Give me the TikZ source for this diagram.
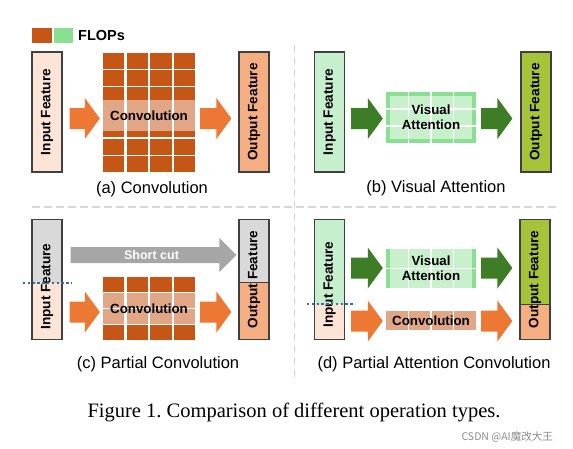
\documentclass[tikz,border=0pt]{standalone}
\usepackage{fontspec}
\setmainfont{Liberation Sans}
\newfontfamily\captionserif{Liberation Serif}
\newfontfamily\cjksans{Noto Sans CJK SC}
\usetikzlibrary{calc}
\frenchspacing
\definecolor{fcbrown}{RGB}{197,86,22}
\definecolor{fcband}{RGB}{224,166,134}
\definecolor{fcpeach}{RGB}{252,228,214}
\definecolor{fcsalmon}{RGB}{244,174,130}
\definecolor{fcorange}{RGB}{237,120,52}
\definecolor{fcgreyfeat}{RGB}{217,217,217}
\definecolor{fcshort}{RGB}{166,166,166}
\definecolor{fcmint}{RGB}{198,239,206}
\definecolor{fcleaf}{RGB}{136,224,144}
\definecolor{fcpale}{RGB}{200,240,204}
\definecolor{fcforest}{RGB}{60,125,38}
\definecolor{fcolive}{RGB}{166,196,58}
\definecolor{fcdots}{RGB}{46,110,170}
\definecolor{fcsep}{RGB}{215,215,215}
\tikzset{
  fcfeat/.style={draw=black!75, line width=1.2pt, minimum width=30, minimum height=120,
    inner sep=0pt, font=\fontsize{13.6}{14}\selectfont\bfseries},
  fclabel/.style={inner sep=0pt, align=center, font=\fontsize{13.3}{15}\selectfont\bfseries},
  fccap/.style={font=\fontsize{16.5}{18}\selectfont},
  fcsepline/.style={draw=fcsep, line width=1.4pt, dash pattern=on 8pt off 4pt},
  fcdotline/.style={draw=fcdots, line width=2pt, dash pattern=on 2.4pt off 2.4pt},
  fcwhite/.style={draw=white, line width=1.5pt}
}
% fat block arrow: colour, tail, tip, y
\newcommand{\fatarrow}[4]{%
  \fill[#1] let \p1=(#2), \p2=(#3), \p3=(0,#4) in
    (\x1,\y3+10.5pt) -- (\x2-15pt,\y3+10.5pt) -- (\x2-15pt,\y3+20.5pt) -- (\x2,\y3)
    -- (\x2-15pt,\y3-20.5pt) -- (\x2-15pt,\y3-10.5pt) -- (\x1,\y3-10.5pt) -- cycle;}

\begin{document}
\begin{tikzpicture}[x=1pt,y=-1pt]
  \fill[white] (0,0) rectangle (573,448);
  \useasboundingbox (0,0) rectangle (573,448);

  % legend
  \fill[fcbrown] (32,28) rectangle (52,43);
  \fill[fcleaf] (54,28) rectangle (73,43);
  \node[anchor=west, inner sep=0pt, font=\fontsize{14.5}{14.5}\selectfont\bfseries] (flops) at (78,36) {FLOPs};

  % separators
  \draw[fcsepline] (32,207) -- (559,207);
  \draw[fcsepline] (294.5,45) -- (294.5,378);

  % (a) convolution
  \foreach \i in {0,...,3}
    \foreach \j in {0,...,6}
      \fill[fcbrown] ({103+\i*23.7},{53+\j*17.2}) rectangle ++(21.2,15.5);
  \foreach \i in {0,...,3}
    \fill[fcband] ({103+\i*23.7},100) rectangle ++(21.2,31);
  \node[fcfeat, fill=fcpeach] (inA) at (47,112) {\rotatebox{90}{Input Feature}};
  \node[fcfeat, fill=fcsalmon] (outA) at (254,112) {\rotatebox{90}{Output Feature}};
  \node[fclabel, minimum width=92] (convA) at (149,115.5) {Convolution};
  \fatarrow{fcorange}{$(inA.east)+(7,0)$}{$(convA.west)+(-3,0)$}{118.5}
  \fatarrow{fcorange}{$(convA.east)+(5,0)$}{$(outA.west)+(-7,0)$}{118.5}
  \node[fccap] (capA) at (152,189) {(a) Convolution};

  % (b) visual attention
  \fill[fcleaf] (386,92) rectangle (476,143);
  \fill[fcpale] (390,96) rectangle (472,139);
  \foreach \x in {408.5,431,453.5} \draw[fcwhite] (\x,92) -- (\x,143);
  \foreach \y in {109,126} \draw[fcwhite] (386,\y) -- (476,\y);
  \node[fcfeat, fill=fcmint] (inB) at (329.5,112) {\rotatebox{90}{Input Feature}};
  \node[fcfeat, fill=fcolive] (outB) at (536,112) {\rotatebox{90}{Output Feature}};
  \node[fclabel, minimum width=90, minimum height=51] (attB) at (431,117.5) {Visual\\Attention};
  \fatarrow{fcforest}{$(inB.east)+(6,0)$}{$(attB.west)+(-3,0)$}{118.5}
  \fatarrow{fcforest}{$(attB.east)+(5,0)$}{$(outB.west)+(-8,0)$}{118.5}
  \node[fccap] (capB) at (436,188) {(b) Visual Attention};

  % (c) partial convolution
  \fill[fcgreyfeat] (32,219.5) rectangle (62,283);
  \fill[fcpeach] (32,283) rectangle (62,339.5);
  \fill[fcgreyfeat] (239,219.5) rectangle (269,282);
  \fill[fcsalmon] (239,282) rectangle (269,339.5);
  \draw[black!75, line width=0.8pt] (239,282) -- (269,282);
  \foreach \i in {0,...,3} {
    \fill[fcbrown] ({103+\i*23.7},277) rectangle ++(21.2,14.5);
    \fill[fcband] ({103+\i*23.7},293.1) rectangle ++(21.2,14.5);
    \fill[fcband] ({103+\i*23.7},309.2) rectangle ++(21.2,14.5);
    \fill[fcbrown] ({103+\i*23.7},325.3) rectangle ++(21.2,14.5);
  }
  \node[fcfeat] (inC) at (47,279.5) {\rotatebox{90}{Input Feature\hspace{14pt}}};
  \node[fcfeat] (outC) at (254,279.5) {\rotatebox{90}{Output Feature}};
  \node[fclabel, minimum width=92] (convC) at (149,309) {Convolution};
  \fatarrow{fcorange}{$(inC.east)+(7,0)$}{$(convC.west)+(-3,0)$}{312}
  \fatarrow{fcorange}{$(convC.east)+(5,0)$}{$(outC.west)+(-7,0)$}{312}
  \fill[fcshort] let \p1=($(inC.east)+(8,0)$), \p2=($(outC.west)+(-2,0)$), \p3=(0,255) in
    (\x1,\y3+8pt) -- (\x2-17pt,\y3+8pt) -- (\x2-17pt,\y3+17pt) -- (\x2,\y3)
    -- (\x2-17pt,\y3-17pt) -- (\x2-17pt,\y3-8pt) -- (\x1,\y3-8pt) -- cycle;
  \node[fclabel, text=white, font=\fontsize{12.5}{13}\selectfont\bfseries] (shortC) at (151.5,255) {Short cut};
  \draw[fcdotline] (23,283) -- (72,283);
  \node[fccap] (capC) at (158,364.5) {(c) Partial Convolution};

  % (d) partial attention convolution
  \fill[fcmint] (314,219.5) rectangle (345,304);
  \fill[fcpeach] (314,304) rectangle (345,339.5);
  \fill[fcolive] (520,219.5) rectangle (550,304);
  \fill[fcsalmon] (520,304) rectangle (550,339.5);
  \draw[black!75, line width=0.8pt] (520,304) -- (550,304);
  \fill[fcpale] (386,249) rectangle (476,288);
  \fill[fcleaf] (386,249) rectangle (390,288);
  \fill[fcleaf] (472,249) rectangle (476,288);
  \foreach \x in {408.5,431,453.5} \draw[fcwhite] (\x,249) -- (\x,288);
  \draw[fcwhite] (386,268.5) -- (476,268.5);
  \fill[fcband] (386,311) rectangle (476,330);
  \foreach \x in {408.5,431,453.5} \draw[fcwhite] (\x,311) -- (\x,330);
  \node[fcfeat] (inD) at (329.5,279.5) {\rotatebox{90}{Input Feature\hspace{10pt}}};
  \node[fcfeat] (outD) at (535,279.5) {\rotatebox{90}{Output Feature}};
  \node[fclabel, minimum width=90] (attD) at (431,268.5) {Visual\\Attention};
  \node[fclabel, minimum width=90] (convD) at (431,320.5) {Convolution};
  \fatarrow{fcforest}{$(inD.east)+(6,0)$}{$(attD.west)+(-3,0)$}{268}
  \fatarrow{fcforest}{$(attD.east)+(5,0)$}{$(outD.west)+(-7,0)$}{268}
  \fatarrow{fcorange}{$(inD.east)+(6,0)$}{$(convD.west)+(-3,0)$}{321}
  \fatarrow{fcorange}{$(convD.east)+(5,0)$}{$(outD.west)+(-7,0)$}{321}
  \draw[fcdotline] (307,304) -- (355,304);
  \node[fccap] (capD) at (434,364) {(d) Partial Attention Convolution};

  % figure caption
  \node[font=\captionserif\fontsize{20.5}{22}\selectfont] (figcap) at (294,412)
    {Figure 1. Comparison of different operation types.};
  \node[anchor=east, inner sep=0pt, text=black!45, font=\cjksans\fontsize{10.5}{10.5}\selectfont] (mark) at (553,437)
    {CSDN @AI魔改大王};
\end{tikzpicture}
\end{document}
